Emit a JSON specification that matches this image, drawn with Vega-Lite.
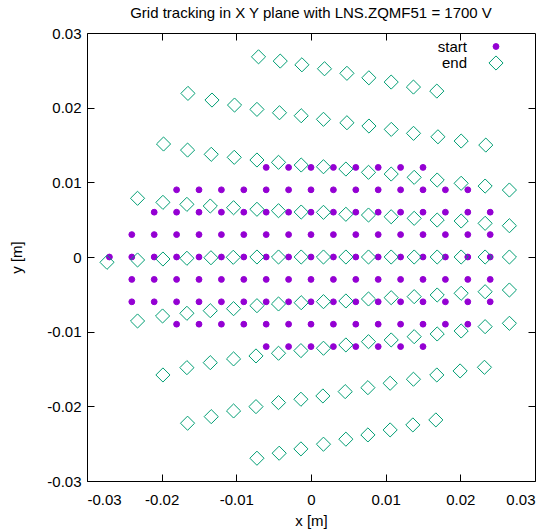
{
  "$schema": "https://vega.github.io/schema/vega-lite/v6.json",
  "autosize": "none",
  "width": 448,
  "height": 448,
  "padding": {"left": 87, "top": 33, "right": 16, "bottom": 49},
  "background": "white",
  "config": {
    "font": "Liberation Sans",
    "view": {"stroke": "black", "strokeWidth": 1},
    "axis": {"labelFont": "Liberation Sans", "titleFont": "Liberation Sans", "labelFontSize": 15, "titleFontSize": 15, "titleFontWeight": "normal", "labelColor": "black", "titleColor": "black", "tickColor": "black", "domain": false, "grid": false, "tickSize": -7, "tickWidth": 1},
    "legend": {"labelFont": "Liberation Sans", "labelFontSize": 15, "labelColor": "black"}
  },
  "title": {"text": "Grid tracking in X Y plane with LNS.ZQMF51 = 1700 V", "fontSize": 15, "fontWeight": "normal", "font": "Liberation Sans", "color": "black", "anchor": "middle", "offset": 5},
  "data": {"values": [
    {"s":"start","x":-0.006,"y":0.012},{"s":"start","x":-0.003,"y":0.012},{"s":"start","x":0,"y":0.012},{"s":"start","x":0.003,"y":0.012},{"s":"start","x":0.006,"y":0.012},{"s":"start","x":0.009,"y":0.012},{"s":"start","x":0.012,"y":0.012},{"s":"start","x":0.015,"y":0.012},
    {"s":"start","x":-0.018,"y":0.009},{"s":"start","x":-0.015,"y":0.009},{"s":"start","x":-0.012,"y":0.009},{"s":"start","x":-0.009,"y":0.009},{"s":"start","x":-0.006,"y":0.009},{"s":"start","x":-0.003,"y":0.009},{"s":"start","x":0,"y":0.009},{"s":"start","x":0.003,"y":0.009},{"s":"start","x":0.006,"y":0.009},{"s":"start","x":0.009,"y":0.009},{"s":"start","x":0.012,"y":0.009},{"s":"start","x":0.015,"y":0.009},{"s":"start","x":0.018,"y":0.009},{"s":"start","x":0.021,"y":0.009},
    {"s":"start","x":-0.021,"y":0.006},{"s":"start","x":-0.018,"y":0.006},{"s":"start","x":-0.015,"y":0.006},{"s":"start","x":-0.012,"y":0.006},{"s":"start","x":-0.009,"y":0.006},{"s":"start","x":-0.006,"y":0.006},{"s":"start","x":-0.003,"y":0.006},{"s":"start","x":0,"y":0.006},{"s":"start","x":0.003,"y":0.006},{"s":"start","x":0.006,"y":0.006},{"s":"start","x":0.009,"y":0.006},{"s":"start","x":0.012,"y":0.006},{"s":"start","x":0.015,"y":0.006},{"s":"start","x":0.018,"y":0.006},{"s":"start","x":0.021,"y":0.006},{"s":"start","x":0.024,"y":0.006},
    {"s":"start","x":-0.024,"y":0.003},{"s":"start","x":-0.021,"y":0.003},{"s":"start","x":-0.018,"y":0.003},{"s":"start","x":-0.015,"y":0.003},{"s":"start","x":-0.012,"y":0.003},{"s":"start","x":-0.009,"y":0.003},{"s":"start","x":-0.006,"y":0.003},{"s":"start","x":-0.003,"y":0.003},{"s":"start","x":0,"y":0.003},{"s":"start","x":0.003,"y":0.003},{"s":"start","x":0.006,"y":0.003},{"s":"start","x":0.009,"y":0.003},{"s":"start","x":0.012,"y":0.003},{"s":"start","x":0.015,"y":0.003},{"s":"start","x":0.018,"y":0.003},{"s":"start","x":0.021,"y":0.003},{"s":"start","x":0.024,"y":0.003},
    {"s":"start","x":-0.027,"y":0},{"s":"start","x":-0.024,"y":0},{"s":"start","x":-0.021,"y":0},{"s":"start","x":-0.018,"y":0},{"s":"start","x":-0.015,"y":0},{"s":"start","x":-0.012,"y":0},{"s":"start","x":-0.009,"y":0},{"s":"start","x":-0.006,"y":0},{"s":"start","x":-0.003,"y":0},{"s":"start","x":0,"y":0},{"s":"start","x":0.003,"y":0},{"s":"start","x":0.006,"y":0},{"s":"start","x":0.009,"y":0},{"s":"start","x":0.012,"y":0},{"s":"start","x":0.015,"y":0},{"s":"start","x":0.018,"y":0},{"s":"start","x":0.021,"y":0},{"s":"start","x":0.024,"y":0},
    {"s":"start","x":-0.024,"y":-0.003},{"s":"start","x":-0.021,"y":-0.003},{"s":"start","x":-0.018,"y":-0.003},{"s":"start","x":-0.015,"y":-0.003},{"s":"start","x":-0.012,"y":-0.003},{"s":"start","x":-0.009,"y":-0.003},{"s":"start","x":-0.006,"y":-0.003},{"s":"start","x":-0.003,"y":-0.003},{"s":"start","x":0,"y":-0.003},{"s":"start","x":0.003,"y":-0.003},{"s":"start","x":0.006,"y":-0.003},{"s":"start","x":0.009,"y":-0.003},{"s":"start","x":0.012,"y":-0.003},{"s":"start","x":0.015,"y":-0.003},{"s":"start","x":0.018,"y":-0.003},{"s":"start","x":0.021,"y":-0.003},{"s":"start","x":0.024,"y":-0.003},
    {"s":"start","x":-0.024,"y":-0.006},{"s":"start","x":-0.021,"y":-0.006},{"s":"start","x":-0.018,"y":-0.006},{"s":"start","x":-0.015,"y":-0.006},{"s":"start","x":-0.012,"y":-0.006},{"s":"start","x":-0.009,"y":-0.006},{"s":"start","x":-0.006,"y":-0.006},{"s":"start","x":-0.003,"y":-0.006},{"s":"start","x":0,"y":-0.006},{"s":"start","x":0.003,"y":-0.006},{"s":"start","x":0.006,"y":-0.006},{"s":"start","x":0.009,"y":-0.006},{"s":"start","x":0.012,"y":-0.006},{"s":"start","x":0.015,"y":-0.006},{"s":"start","x":0.018,"y":-0.006},{"s":"start","x":0.021,"y":-0.006},{"s":"start","x":0.024,"y":-0.006},
    {"s":"start","x":-0.018,"y":-0.009},{"s":"start","x":-0.015,"y":-0.009},{"s":"start","x":-0.012,"y":-0.009},{"s":"start","x":-0.009,"y":-0.009},{"s":"start","x":-0.006,"y":-0.009},{"s":"start","x":-0.003,"y":-0.009},{"s":"start","x":0,"y":-0.009},{"s":"start","x":0.003,"y":-0.009},{"s":"start","x":0.006,"y":-0.009},{"s":"start","x":0.009,"y":-0.009},{"s":"start","x":0.012,"y":-0.009},{"s":"start","x":0.015,"y":-0.009},{"s":"start","x":0.018,"y":-0.009},{"s":"start","x":0.021,"y":-0.009},
    {"s":"start","x":-0.006,"y":-0.012},{"s":"start","x":-0.003,"y":-0.012},{"s":"start","x":0,"y":-0.012},{"s":"start","x":0.003,"y":-0.012},{"s":"start","x":0.006,"y":-0.012},{"s":"start","x":0.009,"y":-0.012},{"s":"start","x":0.012,"y":-0.012},{"s":"start","x":0.015,"y":-0.012},
    {"s":"end","x":-0.00703,"y":0.02681},{"s":"end","x":-0.00412,"y":0.02624},{"s":"end","x":-0.00122,"y":0.02574},{"s":"end","x":0.00181,"y":0.02521},{"s":"end","x":0.00481,"y":0.0246},{"s":"end","x":0.00775,"y":0.024},{"s":"end","x":0.01074,"y":0.02343},{"s":"end","x":0.01372,"y":0.02276},{"s":"end","x":0.01685,"y":0.02222},
    {"s":"end","x":-0.01648,"y":0.02191},{"s":"end","x":-0.01326,"y":0.02102},{"s":"end","x":-0.01024,"y":0.02035},{"s":"end","x":-0.00724,"y":0.01977},{"s":"end","x":-0.00422,"y":0.01932},{"s":"end","x":-0.00131,"y":0.01892},{"s":"end","x":0.00167,"y":0.01844},{"s":"end","x":0.00481,"y":0.01798},{"s":"end","x":0.00776,"y":0.01754},{"s":"end","x":0.01075,"y":0.01709},{"s":"end","x":0.01373,"y":0.01656},{"s":"end","x":0.017,"y":0.0161},{"s":"end","x":0.02011,"y":0.01553},{"s":"end","x":0.02341,"y":0.01499},
    {"s":"end","x":-0.01975,"y":0.01513},{"s":"end","x":-0.01653,"y":0.01432},{"s":"end","x":-0.01336,"y":0.01375},{"s":"end","x":-0.01028,"y":0.01335},{"s":"end","x":-0.00724,"y":0.01299},{"s":"end","x":-0.00435,"y":0.01268},{"s":"end","x":-0.00131,"y":0.01232},{"s":"end","x":0.00167,"y":0.01209},{"s":"end","x":0.00467,"y":0.01178},{"s":"end","x":0.0077,"y":0.01134},{"s":"end","x":0.01074,"y":0.01111},{"s":"end","x":0.01382,"y":0.01067},{"s":"end","x":0.0169,"y":0.01031},{"s":"end","x":0.02011,"y":0.00987},{"s":"end","x":0.02332,"y":0.0095},{"s":"end","x":0.02657,"y":0.00897},
    {"s":"end","x":-0.02323,"y":0.00786},{"s":"end","x":-0.01983,"y":0.00732},{"s":"end","x":-0.01662,"y":0.00705},{"s":"end","x":-0.01349,"y":0.00683},{"s":"end","x":-0.01037,"y":0.0066},{"s":"end","x":-0.00724,"y":0.00639},{"s":"end","x":-0.00435,"y":0.0062},{"s":"end","x":-0.00131,"y":0.00602},{"s":"end","x":0.00167,"y":0.00598},{"s":"end","x":0.00467,"y":0.00572},{"s":"end","x":0.0077,"y":0.00562},{"s":"end","x":0.01074,"y":0.00539},{"s":"end","x":0.01382,"y":0.00518},{"s":"end","x":0.0169,"y":0.00495},{"s":"end","x":0.02011,"y":0.00482},{"s":"end","x":0.02332,"y":0.00451},{"s":"end","x":0.02657,"y":0.00419},
    {"s":"end","x":-0.02732,"y":-0.00071},{"s":"end","x":-0.02323,"y":-0.0004},{"s":"end","x":-0.01983,"y":-0.00027},{"s":"end","x":-0.01662,"y":-0.00017},{"s":"end","x":-0.0134,"y":-0.0001},{"s":"end","x":-0.01041,"y":-0.00004},{"s":"end","x":-0.00724,"y":0},{"s":"end","x":-0.00435,"y":0},{"s":"end","x":-0.00131,"y":0},{"s":"end","x":0.00167,"y":0},{"s":"end","x":0.00467,"y":0},{"s":"end","x":0.0077,"y":0},{"s":"end","x":0.01074,"y":0},{"s":"end","x":0.01382,"y":0},{"s":"end","x":0.0169,"y":0},{"s":"end","x":0.02011,"y":0},{"s":"end","x":0.02332,"y":0},{"s":"end","x":0.02657,"y":0},
    {"s":"end","x":-0.02323,"y":-0.00857},{"s":"end","x":-0.01988,"y":-0.0079},{"s":"end","x":-0.01662,"y":-0.00754},{"s":"end","x":-0.01349,"y":-0.00719},{"s":"end","x":-0.01037,"y":-0.00692},{"s":"end","x":-0.00724,"y":-0.00652},{"s":"end","x":-0.00435,"y":-0.00629},{"s":"end","x":-0.00131,"y":-0.00612},{"s":"end","x":0.00167,"y":-0.00598},{"s":"end","x":0.00467,"y":-0.00589},{"s":"end","x":0.0077,"y":-0.00562},{"s":"end","x":0.01074,"y":-0.00545},{"s":"end","x":0.01382,"y":-0.00531},{"s":"end","x":0.0169,"y":-0.00509},{"s":"end","x":0.02011,"y":-0.00486},{"s":"end","x":0.02332,"y":-0.00465},{"s":"end","x":0.02657,"y":-0.00442},
    {"s":"end","x":-0.01983,"y":-0.0158},{"s":"end","x":-0.01662,"y":-0.01482},{"s":"end","x":-0.01349,"y":-0.01415},{"s":"end","x":-0.01037,"y":-0.01365},{"s":"end","x":-0.00737,"y":-0.01325},{"s":"end","x":-0.00435,"y":-0.01289},{"s":"end","x":-0.00135,"y":-0.01254},{"s":"end","x":0.00167,"y":-0.01222},{"s":"end","x":0.00467,"y":-0.01178},{"s":"end","x":0.0077,"y":-0.01134},{"s":"end","x":0.01074,"y":-0.01111},{"s":"end","x":0.01382,"y":-0.01067},{"s":"end","x":0.0169,"y":-0.01031},{"s":"end","x":0.02011,"y":-0.00991},{"s":"end","x":0.02332,"y":-0.00933},{"s":"end","x":0.02657,"y":-0.00888},
    {"s":"end","x":-0.01653,"y":-0.02226},{"s":"end","x":-0.01336,"y":-0.02138},{"s":"end","x":-0.01037,"y":-0.02062},{"s":"end","x":-0.00737,"y":-0.02004},{"s":"end","x":-0.00435,"y":-0.0195},{"s":"end","x":-0.00135,"y":-0.01905},{"s":"end","x":0.00159,"y":-0.01861},{"s":"end","x":0.00458,"y":-0.01803},{"s":"end","x":0.00762,"y":-0.0175},{"s":"end","x":0.0106,"y":-0.01691},{"s":"end","x":0.01372,"y":-0.01637},{"s":"end","x":0.01685,"y":-0.0158},{"s":"end","x":0.01997,"y":-0.01526},{"s":"end","x":0.02323,"y":-0.01477},
    {"s":"end","x":-0.00724,"y":-0.02695},{"s":"end","x":-0.00426,"y":-0.02628},{"s":"end","x":-0.00135,"y":-0.0257},{"s":"end","x":0.00167,"y":-0.02507},{"s":"end","x":0.00467,"y":-0.0244},{"s":"end","x":0.00762,"y":-0.02383},{"s":"end","x":0.0106,"y":-0.02316},{"s":"end","x":0.01364,"y":-0.02249},{"s":"end","x":0.01672,"y":-0.02182}
  ]},
  "layer": [
    {
      "mark": {"type": "point", "strokeWidth": 1, "opacity": 1},
      "encoding": {
        "x": {"field": "x", "type": "quantitative", "scale": {"domain": [-0.03, 0.03], "nice": false, "zero": false},
              "axis": {"orient": "bottom", "title": "x [m]", "values": [-0.03,-0.02,-0.01,0,0.01,0.02,0.03], "labelPadding": 18, "titlePadding": 6, "labelExpr": "datum.value == 0 ? '0' : (datum.value < 0 ? '-' : '') + format(abs(datum.value), '.2f')"}},
        "y": {"field": "y", "type": "quantitative", "scale": {"domain": [-0.03, 0.03], "nice": false, "zero": false},
              "axis": {"orient": "left", "title": "y [m]", "values": [-0.03,-0.02,-0.01,0,0.01,0.02,0.03], "labelPadding": 13, "titlePadding": 22, "labelExpr": "datum.value == 0 ? '0' : (datum.value < 0 ? '-' : '') + format(abs(datum.value), '.2f')"}},
        "shape": {"field": "s", "type": "nominal", "scale": {"domain": ["start", "end"], "range": ["circle", "diamond"]},
                  "legend": {"title": null, "orient": "none", "legendX": 401, "legendY": 6, "labelAlign": "right", "labelOffset": -37, "padding": 0, "rowPadding": -3, "symbolStrokeWidth": 1}},
        "fill": {"field": "s", "type": "nominal", "scale": {"domain": ["start", "end"], "range": ["#9400d3", "rgba(255,255,255,0)"]}},
        "stroke": {"field": "s", "type": "nominal", "scale": {"domain": ["start", "end"], "range": ["#9400d3", "#009e73"]}},
        "size": {"field": "s", "type": "nominal", "scale": {"domain": ["start", "end"], "range": [34, 200]}}
      }
    },
    {
      "mark": {"type": "point", "opacity": 0},
      "encoding": {
        "x": {"field": "x", "type": "quantitative", "axis": {"orient": "top", "title": null, "labels": false, "values": [-0.02,-0.01,0,0.01,0.02]}},
        "y": {"field": "y", "type": "quantitative", "axis": {"orient": "right", "title": null, "labels": false, "values": [-0.02,-0.01,0,0.01,0.02]}}
      }
    }
  ],
  "resolve": {"axis": {"x": "independent", "y": "independent"}}
}
